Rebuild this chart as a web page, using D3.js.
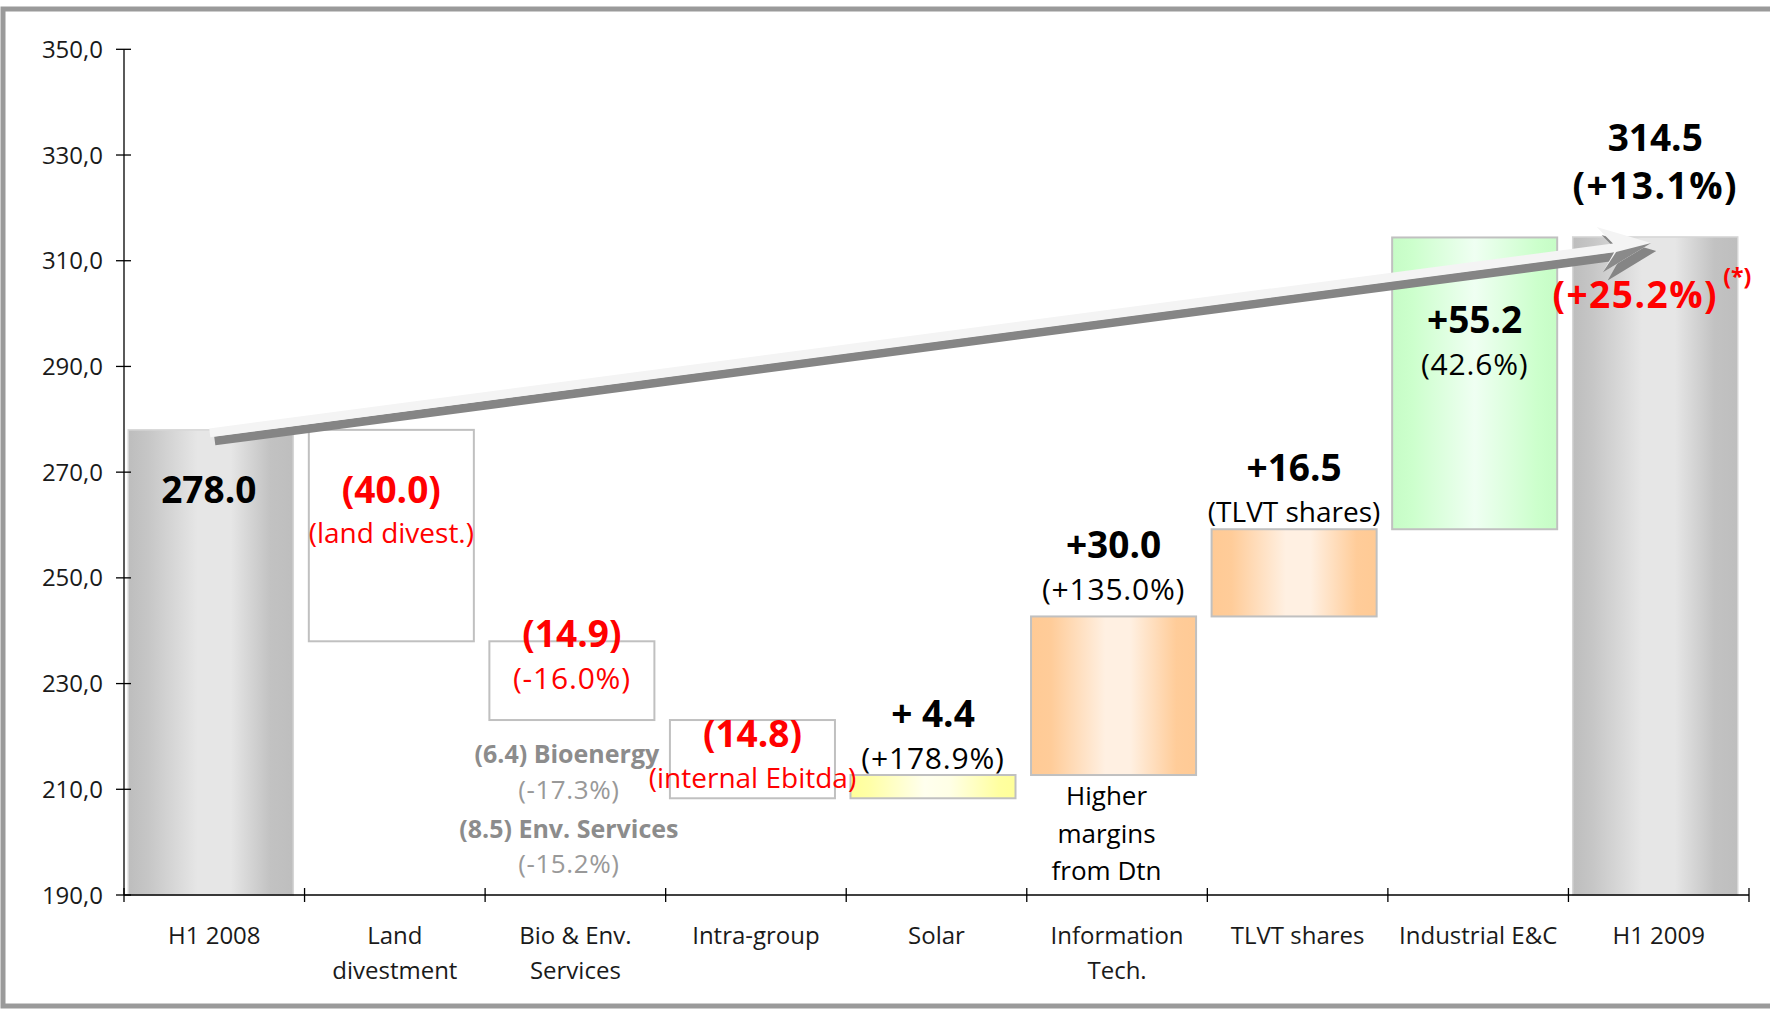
<!DOCTYPE html>
<html>
<head>
<meta charset="utf-8">
<script src="https://cdn.jsdelivr.net/npm/d3@7"></script>
<style>
  html, body { margin: 0; padding: 0; background: #fff; }
  svg { display: block; font-family: "Open Sans", "Noto Sans", sans-serif; }
</style>
</head>
<body>
<svg id="chart" width="1770" height="1010"></svg>
<script>
// ---------- data ----------
const categories = ["H1 2008", "Land divestment", "Bio & Env. Services", "Intra-group", "Solar",
                    "Information Tech.", "TLVT shares", "Industrial E&C", "H1 2009"];
const categoryLines = [["H1 2008"], ["Land", "divestment"], ["Bio & Env.", "Services"], ["Intra-group"],
                       ["Solar"], ["Information", "Tech."], ["TLVT shares"], ["Industrial E&C"], ["H1 2009"]];
const values = [278.0, -40.0, -14.9, -14.8, 4.4, 30.0, 16.5, 55.2, 314.5];
const isTotal = [true, false, false, false, false, false, false, false, true];
const barKind = ["total", "neg", "neg", "neg", "yellow", "orange", "orange", "green", "total"];
const yTicks = [190, 210, 230, 250, 270, 290, 310, 330, 350];
const yDomain = [190, 350];

const valueLabels = ["278.0", "(40.0)", "(14.9)", "(14.8)", "+ 4.4", "+30.0", "+16.5", "+55.2", "314.5"];
const subLabels = ["", "(land divest.)", "(-16.0%)", "(internal Ebitda)", "(+178.9%)", "(+135.0%)", "(TLVT shares)", "(42.6%)", "(+13.1%)"];
const bioBreakdown = [["(6.4) Bioenergy", "(-17.3%)"], ["(8.5) Env. Services", "(-15.2%)"]];
const itNote = ["Higher", "margins", "from Dtn"];
const adjustedGrowth = "(+25.2%)";
const adjustedNote = "(*)";

// ---------- layout ----------
const svg = d3.select("#chart");
const X0 = 124, X1 = 1749, Y0 = 895, Ytop = 49.3;
const step = (X1 - X0) / categories.length;

const x = d3.scaleBand().domain(categories).range([X0 - 3.5, X1 - 3.5]).paddingInner(0.086).paddingOuter(0.043);
const y = d3.scaleLinear().domain(yDomain).range([Y0, Ytop]);

// waterfall computation
let running = 0;
const bars = categories.map((c, i) => {
  let lo, hi;
  if (isTotal[i]) { lo = yDomain[0]; hi = values[i]; running = values[i]; }
  else { const s = running; running += values[i]; lo = Math.min(s, running); hi = Math.max(s, running); }
  return { c, i, lo, hi, kind: barKind[i] };
});

// ---------- frame ----------
svg.append("rect").attr("x", 3).attr("y", 9).attr("width", 1800).attr("height", 997)
  .attr("fill", "none").attr("stroke", "#9a9a9a").attr("stroke-width", 5);

// ---------- gradients ----------
const defs = svg.append("defs");
function grad(id, stops) {
  const g = defs.append("linearGradient").attr("id", id).attr("x1", 0).attr("x2", 1).attr("y1", 0).attr("y2", 0);
  stops.forEach(([o, c]) => g.append("stop").attr("offset", o).attr("stop-color", c));
}
grad("gTotal", [[0, "#bdbdbd"], [0.12, "#c6c6c6"], [0.42, "#e6e6e6"], [0.62, "#e6e6e6"], [0.86, "#c2c2c2"], [1, "#bebebe"]]);
grad("gOrange", [[0, "#ffca95"], [0.12, "#ffcc99"], [0.45, "#fff0e2"], [0.6, "#fff0e2"], [0.88, "#ffcc99"], [1, "#ffca95"]]);
grad("gGreen", [[0, "#c6fcc6"], [0.12, "#ccffcc"], [0.5, "#effff2"], [0.88, "#ccffcc"], [1, "#c6fcc6"]]);
grad("gYellow", [[0, "#ffff99"], [0.12, "#ffffa8"], [0.45, "#ffffee"], [0.6, "#ffffe6"], [0.9, "#ffffa0"], [1, "#ffff99"]]);

const fills = { total: "url(#gTotal)", neg: "#ffffff", orange: "url(#gOrange)", green: "url(#gGreen)", yellow: "url(#gYellow)" };

// ---------- bars ----------
svg.append("g").selectAll("rect").data(bars).join("rect")
  .attr("x", d => x(d.c))
  .attr("y", d => y(d.hi))
  .attr("width", x.bandwidth())
  .attr("height", d => y(d.lo) - y(d.hi))
  .attr("fill", d => fills[d.kind])
  .attr("stroke", d => d.kind === "total" ? "#d6d6d6" : "#c0c0c0")
  .attr("stroke-width", d => d.kind === "total" ? 1.5 : 2);

// ---------- axes ----------
const axisG = svg.append("g").attr("stroke", "#000").attr("stroke-width", 1.3);
axisG.append("line").attr("x1", X0).attr("x2", X0).attr("y1", y(yDomain[1])).attr("y2", Y0);
axisG.append("line").attr("x1", X0).attr("x2", X1).attr("y1", Y0).attr("y2", Y0);
axisG.selectAll("line.yt").data(yTicks).join("line").attr("class", "yt")
  .attr("x1", X0 - 8).attr("x2", X0 + 7).attr("y1", d => y(d)).attr("y2", d => y(d));
axisG.selectAll("line.xt").data(d3.range(categories.length + 1)).join("line").attr("class", "xt")
  .attr("x1", i => X0 + i * step).attr("x2", i => X0 + i * step).attr("y1", Y0 - 7).attr("y2", Y0 + 7);

svg.append("g").selectAll("text").data(yTicks).join("text")
  .attr("x", X0 - 21).attr("y", d => y(d) + 8.5)
  .attr("text-anchor", "end").attr("font-size", 24).attr("fill", "#1a1a1a")
  .text(d => d3.format(".1f")(d).replace(".", ","));

const catG = svg.append("g");
categoryLines.forEach((lines, i) => {
  lines.forEach((ln, j) => {
    catG.append("text")
      .attr("x", X0 + (i + 0.5) * step)
      .attr("y", 944 + j * 35)
      .attr("text-anchor", "middle").attr("font-size", 24).attr("fill", "#1a1a1a")
      .text(ln);
  });
});

// ---------- arrow ----------
(function drawArrow() {
  const b0 = bars[0], b8 = bars[8];
  const sx = x(b0.c) + x.bandwidth() / 2 - 1, sy = y(b0.hi) + 3;
  const tx = x(b8.c) + x.bandwidth() / 2 - 4, ty = y(b8.hi) + 6;
  const ang = Math.atan2(ty - sy, tx - sx);
  const L = Math.hypot(tx - sx, ty - sy);
  const d = [Math.cos(ang), Math.sin(ang)], n = [-Math.sin(ang), Math.cos(ang)];
  const P = (s, t) => [sx + s * d[0] + t * n[0], sy + s * d[1] + t * n[1]];
  const hw = 4.5, headBack = 52, notch = 38, barb = 23;
  const shape = [P(0, -hw), P(L - notch, -hw), P(L - headBack, -barb), P(L, 0),
                 P(L - headBack, barb), P(L - notch, hw), P(0, hw)];
  const line = d3.line();
  const ag = svg.append("g");
  ag.append("path").attr("d", line(shape.map(p => [p[0] + 5, p[1] + 8])) + "Z").attr("fill", "#858585");
  ag.append("path").attr("d", line(shape) + "Z").attr("fill", "#f4f4f4");
  ag.append("path").attr("d", line([P(L, 0), P(L - headBack, barb), P(L - notch + 2, hw)]) + "Z").attr("fill", "#8a8a8a");
})();

// ---------- annotations ----------
const annG = svg.append("g").attr("text-anchor", "middle");
function txt(xp, yp, s, size, weight, color, ls) {
  annG.append("text").attr("x", xp).attr("y", yp).attr("font-size", size)
    .attr("font-weight", weight).attr("fill", color)
    .attr("letter-spacing", ls || 0).text(s);
}
const cx = i => x(categories[i]) + x.bandwidth() / 2;
const barTop = i => y(bars[i].hi), barBot = i => y(bars[i].lo);
const RED = "#ff0000", BLK = "#000000";
const BIG = 37, SUB = 28, PCT = 30;

txt(cx(0) - 2, barTop(0) + 73, valueLabels[0], BIG, 700, BLK);
txt(cx(1), barTop(1) + 73, valueLabels[1], BIG, 700, RED);
txt(cx(1), barTop(1) + 113, subLabels[1], SUB, 400, RED);
txt(cx(2), barTop(2) + 6, valueLabels[2], BIG, 700, RED);
txt(cx(2), barTop(2) + 48, subLabels[2], PCT, 400, RED, 0.8);
txt(cx(2) - 5, barBot(2) + 43, bioBreakdown[0][0], 25, 700, "#8c8c8c");
txt(cx(2) - 3, barBot(2) + 79, bioBreakdown[0][1], 26, 400, "#999999", 0.6);
txt(cx(2) - 3, barBot(2) + 118, bioBreakdown[1][0], 25, 700, "#8c8c8c");
txt(cx(2) - 3, barBot(2) + 153, bioBreakdown[1][1], 26, 400, "#999999", 0.6);
txt(cx(3), barTop(3) + 27, valueLabels[3], BIG, 700, RED);
txt(cx(3), barTop(3) + 68, subLabels[3], SUB, 400, RED);
txt(cx(4), barTop(4) - 48, valueLabels[4], BIG, 700, BLK);
txt(cx(4), barTop(4) - 6, subLabels[4], PCT, 400, BLK, 0.8);
txt(cx(5), barTop(5) - 58, valueLabels[5], BIG, 700, BLK);
txt(cx(5), barTop(5) - 16, subLabels[5], PCT, 400, BLK, 0.8);
itNote.forEach((s, j) => txt(cx(5) - 7, barBot(5) + 30 + j * 37.5, s, 26, 400, BLK));
txt(cx(6), barTop(6) - 48, valueLabels[6], BIG, 700, BLK);
txt(cx(6), barTop(6) - 7, subLabels[6], SUB, 400, BLK);
txt(cx(7), barTop(7) + 96, valueLabels[7], BIG, 700, BLK);
txt(cx(7), barTop(7) + 138, subLabels[7], PCT, 400, BLK, 0.8);
txt(cx(8), barTop(8) - 86, valueLabels[8], BIG, 700, BLK);
txt(cx(8), barTop(8) - 38, subLabels[8], BIG, 700, BLK, 1.5);
txt(cx(8) - 20, barTop(8) + 71, adjustedGrowth, BIG, 700, RED, 1.5);
txt(cx(8) + 82, barTop(8) + 48, adjustedNote, 23, 700, RED);
</script>
</body>
</html>
